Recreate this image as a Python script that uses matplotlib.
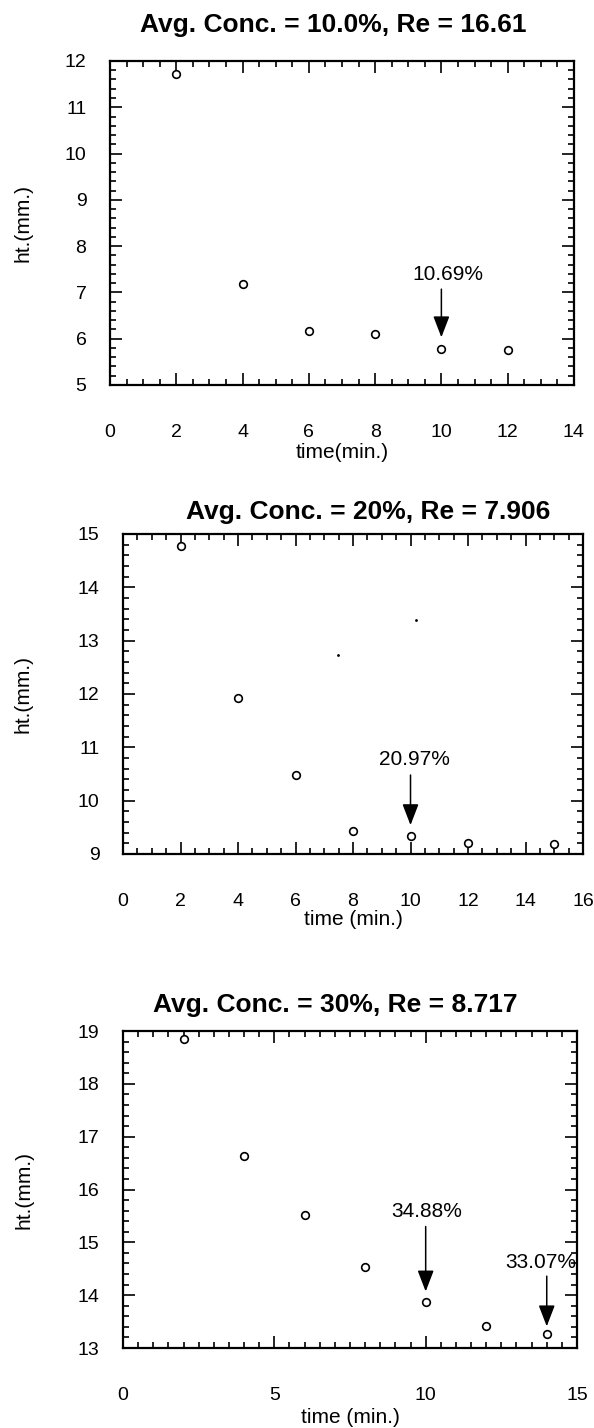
import matplotlib
matplotlib.use("Agg")
import matplotlib.pyplot as plt
from matplotlib.ticker import MultipleLocator
from matplotlib.transforms import ScaledTranslation

plt.rcParams['font.family'] = ['Liberation Sans', 'DejaVu Sans']

# panel 1 : 10% avg conc
t1 = [2, 4, 6, 8, 10, 12]
h1 = [11.72, 7.18, 6.17, 6.11, 5.78, 5.75]
# panel 2 : 20% avg conc
t2 = [2, 4, 6, 8, 10, 12, 15]
h2 = [14.78, 11.92, 10.48, 9.43, 9.33, 9.21, 9.19]
specks_t2 = [7.47, 10.19]
specks_h2 = [12.73, 13.38]
# panel 3 : 30% avg conc
t3 = [2, 4, 6, 8, 10, 12, 14]
h3 = [18.84, 16.64, 15.51, 14.53, 13.88, 13.41, 13.26]

titles = ["Avg. Conc. = 10.0%, Re = 16.61",
          "Avg. Conc. = 20%, Re = 7.906",
          "Avg. Conc. = 30%, Re = 8.717"]
xlabels = ["time(min.)", "time (min.)", "time (min.)"]

# (label, text x, text y, arrow x, arrow top, arrow tip)
notes1 = [("10.69%", 10.2, 7.39, 10.0, 7.07, 6.03)]
notes2 = [("20.97%", 10.12, 10.77, 10.0, 10.48, 9.54)]
notes3 = [("34.88%", 10.02, 15.59, 10.0, 15.30, 14.07),
          ("33.07%", 13.79, 14.61, 14.0, 14.36, 13.41)]

fig = plt.figure(figsize=(5.94, 14.28), dpi=100)

rects = [[0.1852, 0.7304, 0.781, 0.2269],
         [0.2071, 0.4020, 0.7744, 0.2241],
         [0.2071, 0.0560, 0.7643, 0.2220]]
xlims = [(0, 14), (0, 16), (0, 15)]
ylims = [(5, 12), (9, 15), (13, 19)]
xmaj = [2, 2, 5]
title_x = [0.481, 0.533, 0.467]
title_pad = [17, 7, 10]
ylab_x = [-0.166, -0.196, -0.198]
xlab_y = [-0.18, -0.175, -0.19]

series = [(t1, h1, notes1), (t2, h2, notes2), (t3, h3, notes3)]

for i, (t, h, notes) in enumerate(series):
    ax = fig.add_axes(rects[i])
    ax.plot(t, h, 'o', mfc='white', mec='black', ms=5.5, mew=1.2)
    if i == 1:
        ax.plot(specks_t2, specks_h2, '.', color='black', ms=2)

    for lab, tx, ty, ax_x, a_top, a_tip in notes:
        ax.text(tx, ty, lab, ha='center', va='center', fontsize=15)
        ax.annotate('', xy=(ax_x, a_tip), xytext=(ax_x, a_top),
                    arrowprops=dict(arrowstyle='-|>,head_length=1.3,head_width=0.5',
                                    color='black', lw=1.1, mutation_scale=10,
                                    shrinkA=0, shrinkB=0))

    ax.set_xlim(*xlims[i])
    ax.set_ylim(*ylims[i])
    ax.xaxis.set_major_locator(MultipleLocator(xmaj[i]))
    ax.xaxis.set_minor_locator(MultipleLocator(0.5))
    ax.yaxis.set_major_locator(MultipleLocator(1))
    ax.yaxis.set_minor_locator(MultipleLocator(0.2))
    ax.tick_params(which='both', direction='in', top=True, right=True, width=1.2)
    ax.tick_params(which='major', length=8.5)
    ax.tick_params(which='minor', length=4.5)
    ax.tick_params(axis='x', which='major', pad=28, labelsize=14)
    ax.tick_params(axis='y', which='major', pad=17, labelsize=14)
    for s in ax.spines.values():
        s.set_linewidth(1.6)

    # title sits off-centre in the original, so place it by hand
    off = ScaledTranslation(0, title_pad[i] / 72, fig.dpi_scale_trans)
    ax.text(title_x[i], 1.0, titles[i], transform=ax.transAxes + off,
            ha='center', va='bottom', fontsize=19, fontweight='bold')

    ax.set_ylabel("ht.(mm.)", fontsize=15)
    ax.yaxis.set_label_coords(ylab_x[i], 0.5)
    ax.set_xlabel(xlabels[i], fontsize=15)
    ax.xaxis.set_label_coords(0.5, xlab_y[i])

fig.savefig("out.png", dpi=100)
